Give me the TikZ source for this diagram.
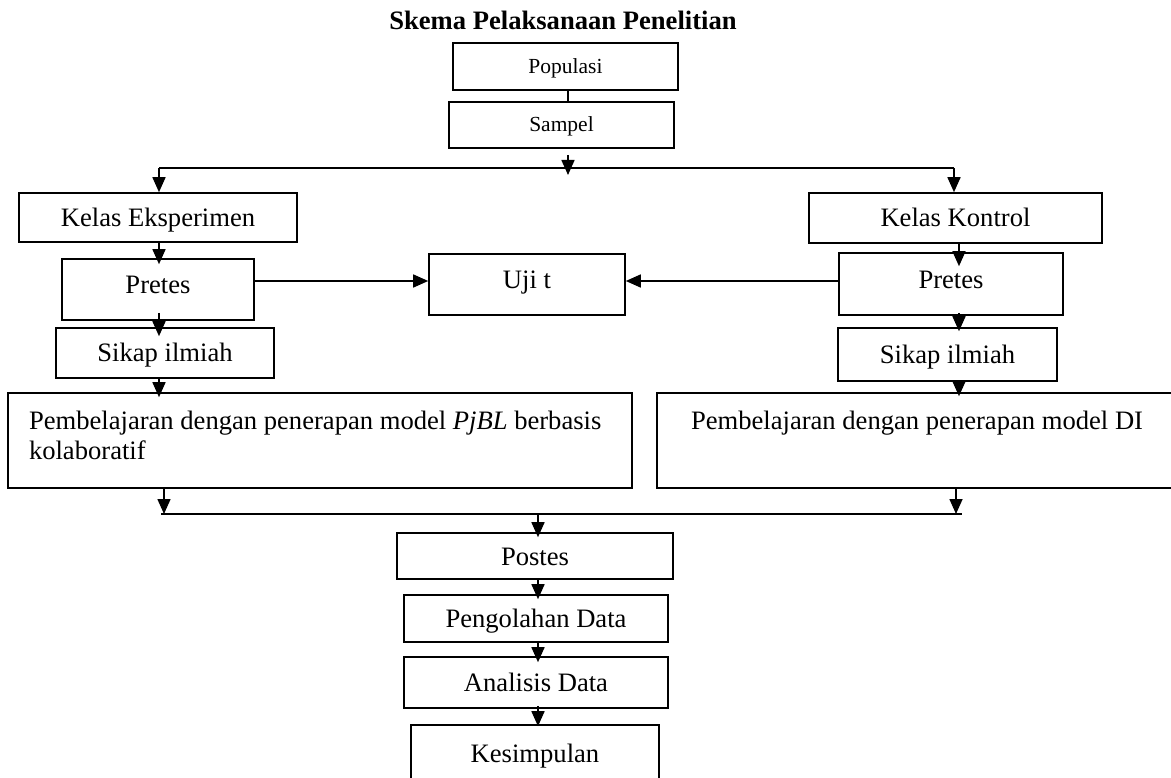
\documentclass[tikz,border=0pt]{standalone}
\usepackage{fontspec}
\setmainfont{Liberation Serif}
\usetikzlibrary{arrows.meta}
\newcommand\fsbody{\fontsize{26.6}{30}\selectfont}
\newcommand\fssmall{\fontsize{21.5}{24}\selectfont}
\begin{document}
\begin{tikzpicture}[x=1pt,y=-1pt,
  ln/.style={line width=1.6pt},
  box/.style={draw, ln, inner sep=0pt, font=\fsbody, text height=18pt, text depth=0pt},
  sbox/.style={box, font=\fssmall, text height=15pt, text depth=1pt},
  arr/.style={ln, -{Triangle[length=15pt,width=13pt]}}]
\useasboundingbox (0,0) rectangle (1171,778);
\node[font=\fsbody\bfseries, anchor=base, inner sep=0pt] (title) at (563,30) {Skema Pelaksanaan Penelitian};
\node[sbox, minimum width=225pt, minimum height=47pt] (pop) at (565.5,66.5) {Populasi};
\node[sbox, minimum width=225pt, minimum height=46pt] (sam) at (561.5,125) {Sampel};
\node[box, minimum width=278pt, minimum height=49pt] (ke) at (158,217.5) {Kelas Eksperimen};
\node[box, minimum width=293pt, minimum height=50pt] (kk) at (955.5,218) {Kelas Kontrol};
\node[box, text depth=9pt, minimum width=192pt, minimum height=61pt] (preL) at (158,289.5) {Pretes};
\node[box, text depth=9pt, minimum width=196pt, minimum height=61pt] (ujit) at (527,284.5) {Uji t};
\node[box, text depth=9pt, minimum width=224pt, minimum height=62pt] (preR) at (951,284) {Pretes};
\node[box, minimum width=218pt, minimum height=50pt] (sikL) at (165,353) {Sikap ilmiah};
\node[box, minimum width=219pt, minimum height=53pt] (sikR) at (947.5,354.5) {Sikap ilmiah};
\node[draw, ln, inner sep=0pt, font=\fsbody] (pemL) at (320,440.5)
  {\parbox[c][95pt][t]{624pt}{\leftskip=21pt\relax\rule{0pt}{36pt}Pembelajaran dengan penerapan model \textit{PjBL} berbasis\\kolaboratif}};
\node[draw, ln, inner sep=0pt, font=\fsbody] (pemR) at (917,440.5)
  {\parbox[c][95pt][t]{520pt}{\centering\rule{0pt}{36pt}Pembelajaran dengan penerapan model DI}};
\node[box, minimum width=276pt, minimum height=46pt] (post) at (535,556) {Postes};
\node[box, minimum width=264pt, minimum height=47pt] (peng) at (536,618.5) {Pengolahan Data};
\node[box, minimum width=264pt, minimum height=51pt] (anal) at (536,682.5) {Analisis Data};
\node[box, minimum width=248pt, minimum height=56pt] (kes) at (535,753) {Kesimpulan};
\coordinate (tm) at (568,168);
\coordinate (tl) at (159,168);
\coordinate (tr) at (954,168);
\coordinate (uy) at (0,281);
\coordinate (rc) at (959,0);
\coordinate (bl) at (161,514);
\coordinate (br) at (962,514);
\coordinate (bm) at (538,514);
\coordinate (lx) at (164,0);
\coordinate (rx) at (956,0);
\draw[ln] (pop.south -| tm) -- (sam.north -| tm);
\draw[arr, shorten <=6pt, shorten >=-7pt] (sam.south -| tm) -- (tm);
\draw[ln] (tl) -- (tr);
\draw[arr] (tl) -- (ke.north -| tl);
\draw[arr] (tr) -- (kk.north -| tr);
\draw[arr, shorten >=-6pt] (ke.south -| tl) -- (preL.north -| tl);
\draw[arr, shorten <=-8pt, shorten >=-9pt] (preL.south -| tl) -- (sikL.north -| tl);
\draw[arr, shorten >=-5pt] (sikL.south -| tl) -- (pemL.north -| tl);
\draw[arr] (preL.east |- uy) -- (ujit.west |- uy);
\draw[arr] (preR.west |- uy) -- (ujit.east |- uy);
\draw[arr, shorten >=-14pt] (kk.south -| rc) -- (preR.north -| rc);
\draw[arr, shorten <=-3pt, shorten >=-4pt] (preR.south -| rc) -- (sikR.north -| rc);
\draw[arr, shorten >=-4pt] (sikR.south -| rc) -- (pemR.north -| rc);
\draw[ln] (bl) -- (br);
\draw[arr] (pemL.south -| lx) -- (bl -| lx);
\draw[arr] (pemR.south -| rx) -- (br -| rx);
\draw[arr, shorten >=-5pt] (bm) -- (post.north -| bm);
\draw[arr, shorten <=-1pt, shorten >=-5pt] (post.south -| bm) -- (peng.north -| bm);
\draw[arr, shorten <=-2pt, shorten >=-6pt] (peng.south -| bm) -- (anal.north -| bm);
\draw[arr, shorten <=-3pt, shorten >=-2pt] (anal.south -| bm) -- (kes.north -| bm);
\end{tikzpicture}
\end{document}
